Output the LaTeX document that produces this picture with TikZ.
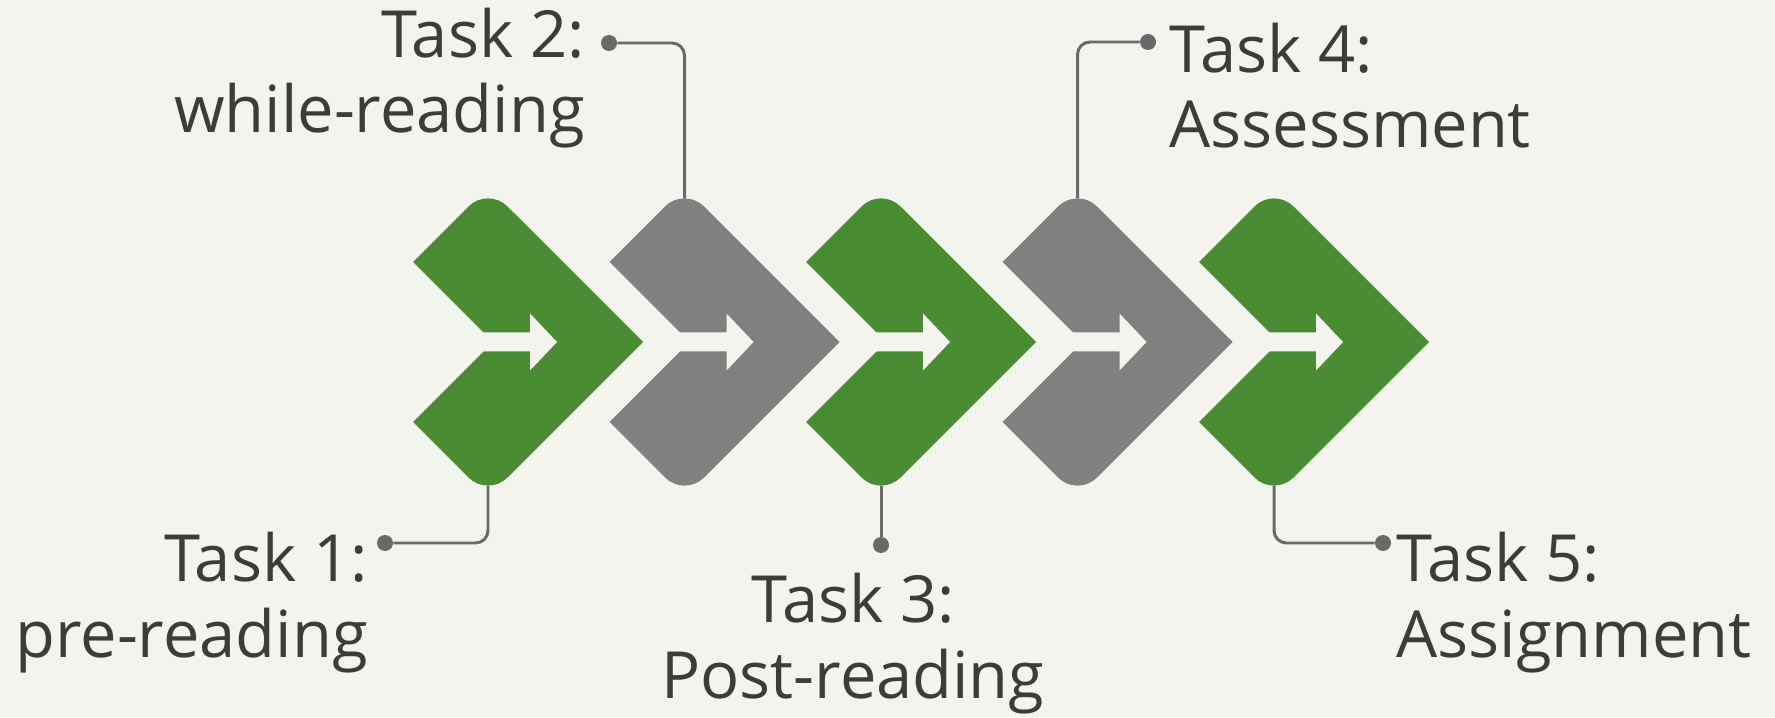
\documentclass[tikz,border=0pt]{standalone}
\usepackage{fontspec}
\setmainfont{Open Sans}
\usepackage{xcolor}
\usepackage{tikz}
\usetikzlibrary{positioning,calc}
\definecolor{taskgreen}{RGB}{74,140,51}
\definecolor{taskgray}{RGB}{128,128,128}
\definecolor{paper}{RGB}{244,244,239}
\definecolor{linegray}{RGB}{105,105,105}
\definecolor{labeltext}{RGB}{60,60,60}

\begin{document}
\begin{tikzpicture}[
    chevron/.pic={
        \fill[pic actions] (-1.5,1.6) -- (-0.389,2.711) arc[start angle=135, end angle=45, radius=0.55]
            -- (3.1,0) -- (0.389,-2.711) arc[start angle=-45, end angle=-135, radius=0.55]
            -- (-1.5,-1.6) -- (0.1,0) -- cycle;
        \fill[paper] (-0.3,0.19) -- (0.84,0.19) -- (0.84,0.57) -- (1.38,0) -- (0.84,-0.57)
            -- (0.84,-0.19) -- (-0.3,-0.19) -- cycle;
        \coordinate (-top) at (0,2.872);
        \coordinate (-bot) at (0,-2.872);
    },
    dot/.style={circle, fill=linegray, inner sep=0pt, minimum size=0.32cm},
    conn/.style={linegray, line width=1.7pt, rounded corners=0.25cm},
    tasklabel/.style={font=\fontsize{37}{43}\selectfont, text=labeltext, inner sep=0pt}
]

% Background
\fill[paper] (0,0) rectangle (35.5,14.34);
\useasboundingbox (0,0) rectangle (35.5,14.34);

% Chevrons
\pic[fill=taskgreen] (ch1) at (9.76,7.5) {chevron};
\pic[fill=taskgray] (ch2) at (13.69,7.5) {chevron};
\pic[fill=taskgreen] (ch3) at (17.62,7.5) {chevron};
\pic[fill=taskgray] (ch4) at (21.55,7.5) {chevron};
\pic[fill=taskgreen] (ch5) at (25.48,7.5) {chevron};

% Dots
\node[dot] (d1) at (7.7,3.48) {};
\node[dot] (d2) at (12.18,13.48) {};
\node[dot] (d3) at (17.62,3.44) {};
\node[dot] (d4) at (22.96,13.5) {};
\node[dot] (d5) at (27.66,3.48) {};

% Connectors
\draw[conn] (ch1-bot) |- (d1);
\draw[conn] (ch2-top) |- (d2);
\draw[conn] (ch3-bot) -- (d3);
\draw[conn] (ch4-top) |- (d4);
\draw[conn] (ch5-bot) |- (d5);

% Labels (base = last line)
\node[tasklabel, align=right, anchor=base east] (t1) at (7.36,1.2) {Task 1:\\pre-reading};
\node[tasklabel, align=right, anchor=base east] (t2) at (11.7,11.68) {Task 2:\\while-reading};
\node[tasklabel, align=center, anchor=base] (t3) at (17.06,0.38) {Task 3:\\Post-reading};
\node[tasklabel, align=left, anchor=base west] (t4) at (23.38,11.38) {Task 4:\\Assessment};
\node[tasklabel, align=left, anchor=base west] (t5) at (27.92,1.2) {Task 5:\\Assignment};

\end{tikzpicture}
\end{document}
